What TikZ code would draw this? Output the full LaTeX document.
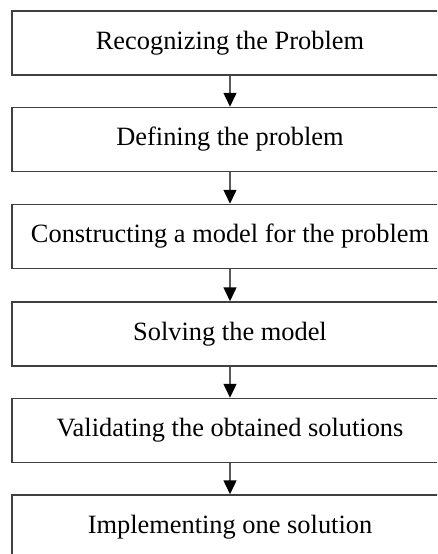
\documentclass[tikz,border=0pt]{standalone}
\usepackage{fontspec}
\setmainfont{Liberation Serif}
\usetikzlibrary{arrows.meta}
\begin{document}
\begin{tikzpicture}[x=1pt,y=-1pt,
  stagebox/.style={draw=black!75, line width=1.5pt, fill=white,
    minimum width=436pt, minimum height=64pt, inner sep=0pt,
    font=\fontsize{26.4}{30}\selectfont, text=black},
  flowarrow/.style={draw=black!65, line width=1.5pt,
    -{Triangle[width=13pt,length=14pt,fill=black,color=black]}}]
  \useasboundingbox (0,0) rectangle (437,554);
  \clip (0,0) rectangle (437,554);
  \node[stagebox] (s1) at (230,43)  {Recognizing the Problem};
  \node[stagebox] (s2) at (230,139.5) {Defining the problem};
  \node[stagebox] (s3) at (230,236.5) {Constructing a model for the problem};
  \node[stagebox] (s4) at (230,334) {Solving the model};
  \node[stagebox] (s5) at (230,430.5) {Validating the obtained solutions};
  \node[stagebox] (s6) at (230,527) {Implementing one solution};
  \foreach \a/\b in {s1/s2,s2/s3,s3/s4,s4/s5,s5/s6}
    \draw[flowarrow] (\a.south) -- (\b.north);
\end{tikzpicture}
\end{document}
